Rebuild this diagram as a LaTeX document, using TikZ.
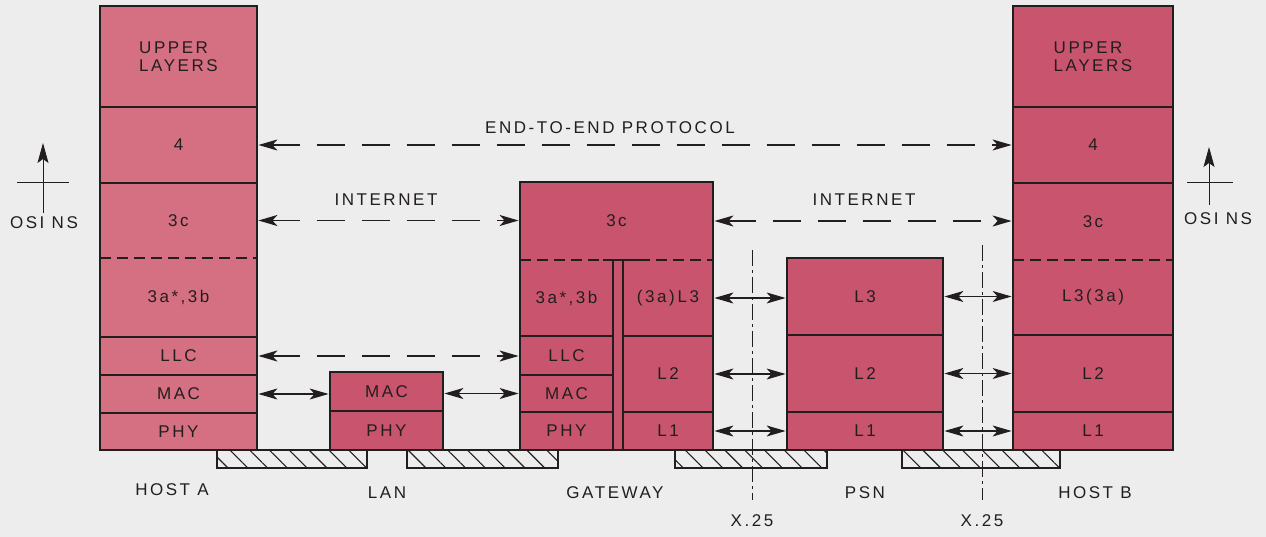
\documentclass[tikz,border=0pt]{standalone}
\usepackage{fontspec}
\setmainfont{Liberation Sans}[LetterSpace=15]
\usetikzlibrary{patterns.meta,arrows.meta}
\definecolor{bg}{RGB}{237,237,237}
\definecolor{pinkA}{RGB}{212,112,130}
\definecolor{pinkB}{RGB}{201,84,110}
\definecolor{ink}{RGB}{35,30,30}
\begin{document}
\begin{tikzpicture}[x=1pt,y=-1pt,
  font=\fontsize{17}{18.5}\selectfont,
  layer/.style={rectangle, anchor=north west, inner sep=0pt, outer sep=0pt, text=ink, align=center},
  fa/.style={layer, fill=pinkA},
  fb/.style={layer, fill=pinkB},
  outline/.style={draw=ink, line width=2.8pt},
  sep/.style={draw=ink, line width=1.3pt},
  sepdash/.style={draw=ink, line width=1.3pt, dash pattern=on 11pt off 6pt},
  media/.style={draw=ink, line width=1.5pt, fill=white,
    pattern={Lines[angle=-45,distance=14pt,line width=1.1pt]}, pattern color=ink},
  tipA/.tip={Stealth[length=19pt,width=11pt,inset=5pt]},
  proto/.style={tipA-tipA, draw=ink, line width=1.6pt, dash pattern=on 28pt off 17pt, shorten <=1.4pt, shorten >=1.4pt},
  link/.style={tipA-tipA, draw=ink, line width=1.1pt, shorten <=1.4pt, shorten >=1.4pt},
  lbl/.style={text=ink, inner sep=1pt},
  cline/.style={draw=ink, line width=0.8pt, dash pattern=on 16pt off 4pt on 3pt off 4pt},
  osi/.style={-{Stealth[length=20pt,width=11pt,inset=4pt]}, draw=ink, line width=0.8pt}
]
\fill[bg] (0,0) rectangle (1266,537);
\useasboundingbox (0,0) rectangle (1266,537);

% transmission media (hatched)
\draw[media] (217,450) rectangle (367,468);
\draw[media] (407,450) rectangle (558,468);
\draw[media] (675,450) rectangle (827,468);
\draw[media] (902,450) rectangle (1060,468);

% HOST A
\node[fa, minimum width=157, minimum height=101, align=left] (a-up) at (100,6) {UPPER\\LAYERS};
\node[fa, minimum width=157, minimum height=76] (a-4) at (100,107) {4};
\node[fa, minimum width=157, minimum height=75] (a-3c) at (100,183) {3c};
\node[fa, minimum width=157, minimum height=79] (a-3ab) at (100,258) {3a*,3b};
\node[fa, minimum width=157, minimum height=38] (a-llc) at (100,337) {LLC};
\node[fa, minimum width=157, minimum height=38] (a-mac) at (100,375) {MAC};
\node[fa, minimum width=157, minimum height=37] (a-phy) at (100,413) {PHY};
\draw[sep] (a-4.north west) -- (a-4.north east);
\draw[sep] (a-3c.north west) -- (a-3c.north east);
\draw[sepdash] (a-3ab.north west) -- (a-3ab.north east);
\draw[sep] (a-llc.north west) -- (a-llc.north east);
\draw[sep] (a-mac.north west) -- (a-mac.north east);
\draw[sep] (a-phy.north west) -- (a-phy.north east);
\draw[outline] (a-up.north west) rectangle (a-phy.south east);

% LAN
\node[fb, minimum width=113, minimum height=39] (l-mac) at (330,372) {MAC};
\node[fb, minimum width=113, minimum height=39] (l-phy) at (330,411) {PHY};
\draw[sep] (l-phy.north west) -- (l-phy.north east);
\draw[outline] (l-mac.north west) rectangle (l-phy.south east);

% GATEWAY
\node[fb, minimum width=193, minimum height=78] (g-3c) at (520,182) {3c};
\node[fb, minimum width=93, minimum height=76] (g-3ab) at (520,260) {3a*,3b};
\node[fb, minimum width=93, minimum height=39] (g-llc) at (520,336) {LLC};
\node[fb, minimum width=93, minimum height=37] (g-mac) at (520,375) {MAC};
\node[fb, minimum width=93, minimum height=38] (g-phy) at (520,412) {PHY};
\node[fb, minimum width=10, minimum height=190] (g-mid) at (613,260) {};
\node[fb, minimum width=90, minimum height=76] (g-l3) at (623,260) {(3a)\,L3};
\node[fb, minimum width=90, minimum height=76] (g-l2) at (623,336) {L2};
\node[fb, minimum width=90, minimum height=38] (g-l1) at (623,412) {L1};
\draw[sepdash] (g-3ab.north west) -- (g-l3.north east);
\draw[sep] (603,260) -- (642,260);
\draw[sep] (g-mid.north west) -- (g-mid.south west);
\draw[sep] (g-mid.north east) -- (g-mid.south east);
\draw[sep] (g-llc.north west) -- (g-llc.north east);
\draw[sep] (g-mac.north west) -- (g-mac.north east);
\draw[sep] (g-phy.north west) -- (g-phy.north east);
\draw[sep] (g-l2.north west) -- (g-l2.north east);
\draw[sep] (g-l1.north west) -- (g-l1.north east);
\draw[outline] (g-3c.north west) rectangle (g-l1.south east);

% PSN
\node[fb, minimum width=156, minimum height=77] (p-l3) at (787,258) {L3};
\node[fb, minimum width=156, minimum height=77] (p-l2) at (787,335) {L2};
\node[fb, minimum width=156, minimum height=38] (p-l1) at (787,412) {L1};
\draw[sep] (p-l2.north west) -- (p-l2.north east);
\draw[sep] (p-l1.north west) -- (p-l1.north east);
\draw[outline] (p-l3.north west) rectangle (p-l1.south east);

% HOST B
\node[fb, minimum width=160, minimum height=101, align=left] (b-up) at (1013,6) {UPPER\\LAYERS};
\node[fb, minimum width=160, minimum height=76] (b-4) at (1013,107) {4};
\node[fb, minimum width=160, minimum height=77] (b-3c) at (1013,183) {3c};
\node[fb, minimum width=160, minimum height=75] (b-l3) at (1013,260) {L3(3a)};
\node[fb, minimum width=160, minimum height=77] (b-l2) at (1013,335) {L2};
\node[fb, minimum width=160, minimum height=38] (b-l1) at (1013,412) {L1};
\draw[sep] (b-4.north west) -- (b-4.north east);
\draw[sep] (b-3c.north west) -- (b-3c.north east);
\draw[sepdash] (b-l3.north west) -- (b-l3.north east);
\draw[sep] (b-l2.north west) -- (b-l2.north east);
\draw[sep] (b-l1.north west) -- (b-l1.north east);
\draw[outline] (b-up.north west) rectangle (b-l1.south east);

% X.25 centre lines
\coordinate (x1top) at (752,250);
\node[lbl] (x1) at (752,521) {X.25};
\draw[cline] (x1top) -- (x1top |- 0,500);
\coordinate (x2top) at (982,245);
\node[lbl] (x2) at (982,521) {X.25};
\draw[cline] (x2top) -- (x2top |- 0,500);

% protocol arrows
\draw[proto] (a-4.east) -- (b-4.west);
\node[lbl] (e2e) at (610,128) {END-TO-END PROTOCOL};
\draw[proto] (a-3c.east) -- (a-3c.east -| g-3c.west);
\node[lbl] (inetL) at (386,200) {INTERNET};
\draw[proto] (g-3c.east) -- (g-3c.east -| b-3c.west);
\node[lbl] (inetR) at (864,200) {INTERNET};
\draw[proto] (a-llc.east) -- (a-llc.east -| g-llc.west);
\draw[link] (a-mac.east) -- (a-mac.east -| l-mac.west);
\draw[link] (g-mac.west -| l-mac.east) -- (g-mac.west);
\draw[link] (g-l3.east) -- (g-l3.east -| p-l3.west);
\draw[link] (g-l2.east) -- (g-l2.east -| p-l2.west);
\draw[link] (g-l1.east) -- (g-l1.east -| p-l1.west);
\draw[link] (p-l3.east) -- (p-l3.east -| b-l3.west);
\draw[link] (p-l2.east) -- (p-l2.east -| b-l2.west);
\draw[link] (p-l1.east) -- (p-l1.east -| b-l1.west);

% OSI NS markers
\node[lbl] (osiL) at (44,223) {OSI NS};
\coordinate (osiLtip) at (43,143);
\draw[osi] (osiLtip |- 0,213) -- (osiLtip);
\draw[draw=ink, line width=0.8pt] (17,182) -- (69,182);
\node[lbl] (osiR) at (1218,219) {OSI NS};
\coordinate (osiRtip) at (1209,147);
\draw[osi] (osiRtip |- 0,205) -- (osiRtip);
\draw[draw=ink, line width=0.8pt] (1187,182) -- (1233,182);

% stack labels
\node[lbl] (hA) at (172,490) {HOST A};
\node[lbl] (hLAN) at (387,493) {LAN};
\node[lbl] (hGW) at (615,493) {GATEWAY};
\node[lbl] (hPSN) at (865,493) {PSN};
\node[lbl] (hB) at (1095,493) {HOST B};
\end{tikzpicture}
\end{document}
